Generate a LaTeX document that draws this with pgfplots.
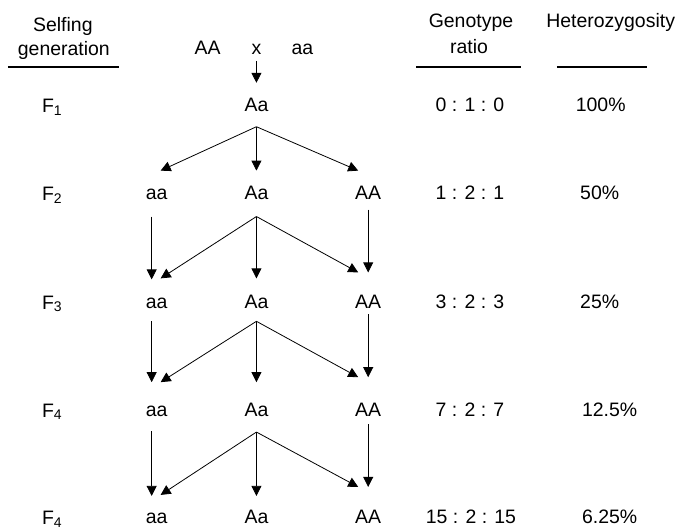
\documentclass[border=0pt]{standalone}
\usepackage{fontspec}
\setmainfont{Liberation Sans}
\usepackage{pgfplots}
\pgfplotsset{compat=1.18}
\usetikzlibrary{arrows.meta}

\newcommand{\sub}[1]{\raisebox{-2.5bp}{\fontsize{14bp}{14bp}\selectfont #1}}
\tikzset{lab/.style={font=\fontsize{19.5bp}{23bp}\selectfont, anchor=base, inner sep=0pt}}

\begin{document}
\begin{tikzpicture}
\begin{axis}[
    scale only axis,
    width=675bp, height=532bp,
    xmin=0, xmax=675, ymin=0, ymax=532,
    y dir=reverse,
    hide axis,
    clip=false,
]
% frame points so the page keeps the reference size
\addplot[draw=none] coordinates {(0,0) (675,532)};

% headers
\node[lab] at (axis cs:63,32) {Selfing};
\node[lab] at (axis cs:64,56) {generation};
\node[lab] at (axis cs:472,28) {Genotype};
\node[lab] at (axis cs:470,54) {ratio};
\node[lab] at (axis cs:612,28) {Heterozygosity};
\node[lab] at (axis cs:208,55) {AA};
\node[lab] at (axis cs:257,55) {x};
\node[lab] at (axis cs:303,55) {aa};

\addplot[black, line width=1.3bp] coordinates {(8,67) (119,67)};
\addplot[black, line width=1.3bp] coordinates {(417,67) (522,67)};
\addplot[black, line width=1.3bp] coordinates {(558,67) (648,67)};

% generation labels
\node[lab] at (axis cs:52,113) {F\sub{1}};
\node[lab] at (axis cs:52,201) {F\sub{2}};
\node[lab] at (axis cs:52,310) {F\sub{3}};
\node[lab] at (axis cs:52,418) {F\sub{4}};
\node[lab] at (axis cs:52,526) {F\sub{4}};

% genotypes
\node[lab] at (axis cs:257,112) {Aa};
\node[lab] at (axis cs:157,200) {aa};
\node[lab] at (axis cs:257,200) {Aa};
\node[lab] at (axis cs:369,200) {AA};
\node[lab] at (axis cs:157,309) {aa};
\node[lab] at (axis cs:257,309) {Aa};
\node[lab] at (axis cs:369,309) {AA};
\node[lab] at (axis cs:157,417) {aa};
\node[lab] at (axis cs:257,417) {Aa};
\node[lab] at (axis cs:369,417) {AA};
\node[lab] at (axis cs:157,525) {aa};
\node[lab] at (axis cs:257,525) {Aa};
\node[lab] at (axis cs:369,525) {AA};

% ratios
\node[lab] at (axis cs:471,112) {0 : 1 : 0};
\node[lab] at (axis cs:471,200) {1 : 2 : 1};
\node[lab] at (axis cs:471,309) {3 : 2 : 3};
\node[lab] at (axis cs:471,417) {7 : 2 : 7};
\node[lab] at (axis cs:472,525) {15 : 2 : 15};

% heterozygosity
\node[lab] at (axis cs:602,112) {100\%};
\node[lab] at (axis cs:601,200) {50\%};
\node[lab] at (axis cs:601,309) {25\%};
\node[lab] at (axis cs:611,417) {12.5\%};
\node[lab] at (axis cs:611,525) {6.25\%};

% arrows
\pgfplotsset{arr/.style={black, line width=0.8bp, -{Triangle[length=10bp,width=10bp]}}}
\addplot[arr] coordinates {(257,61) (257,83)};
% F1 -> F2
\addplot[arr] coordinates {(257,127) (161,171)};
\addplot[arr] coordinates {(257,127) (257,171)};
\addplot[arr] coordinates {(257,127) (359,171)};
% F2 -> F3
\addplot[arr] coordinates {(257,217) (161,279)};
\addplot[arr] coordinates {(257,217) (257,279)};
\addplot[arr] coordinates {(257,217) (359,273)};
\addplot[arr] coordinates {(152,217) (152,280)};
\addplot[arr] coordinates {(369,210) (369,273)};
% F3 -> F4
\addplot[arr] coordinates {(257,322) (161,383)};
\addplot[arr] coordinates {(257,322) (257,383)};
\addplot[arr] coordinates {(257,322) (359,378)};
\addplot[arr] coordinates {(152,322) (152,383)};
\addplot[arr] coordinates {(369,315) (369,378)};
% F4 -> F5
\addplot[arr] coordinates {(257,433) (161,496)};
\addplot[arr] coordinates {(257,433) (257,497)};
\addplot[arr] coordinates {(257,433) (359,488)};
\addplot[arr] coordinates {(152,432) (152,497)};
\addplot[arr] coordinates {(369,425) (369,488)};
\end{axis}
\end{tikzpicture}
\end{document}
